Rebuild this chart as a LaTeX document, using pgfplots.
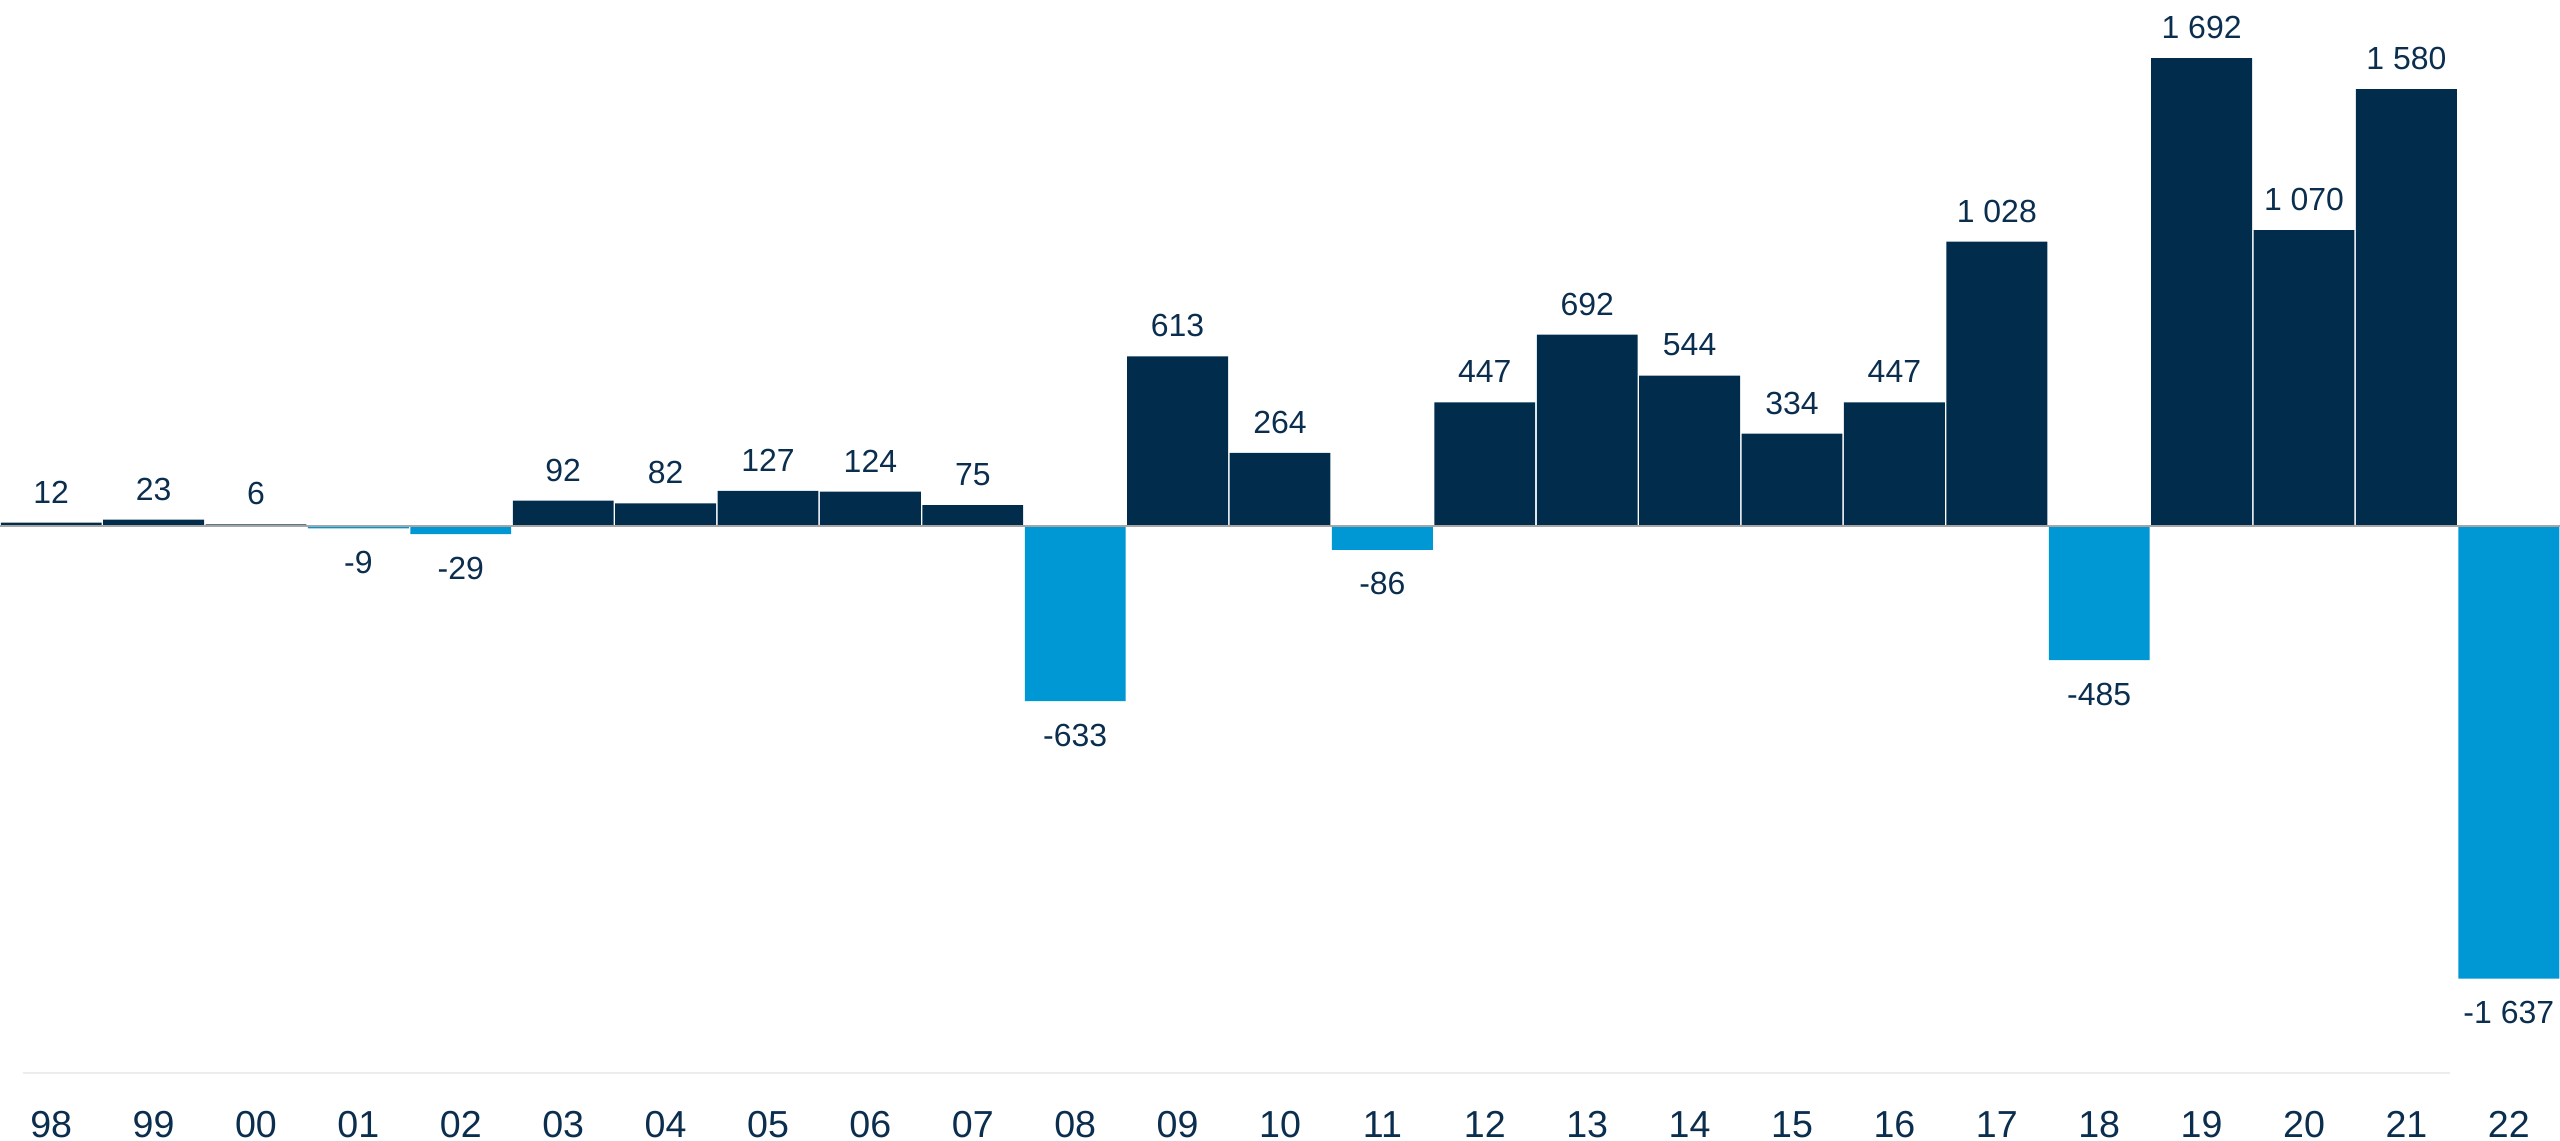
\documentclass[border=0pt]{standalone}
\usepackage{fontspec}
\setmainfont{Liberation Sans}
\usepackage{pgfplots}
\usepackage{pgfplotstable}
\pgfplotsset{compat=1.18}
\definecolor{navy}{HTML}{022C4B}
\definecolor{lblue}{HTML}{0097D5}
\definecolor{txt}{HTML}{0B2E4F}
\pgfplotstableread[col sep=comma]{
x,y,lab
0,12,12
1,23,23
2,6,6
5,92,92
6,82,82
7,127,127
8,124,124
9,75,75
11,613,613
12,264,264
14,447,447
15,692,692
16,544,544
17,334,334
18,447,447
19,1028,1 028
21,1692,1 692
22,1070,1 070
23,1580,1 580
}\pos
\pgfplotstableread[col sep=comma]{
x,y,lab
3,-9,-9
4,-29,-29
10,-633,-633
13,-86,-86
20,-485,-485
24,-1637,-1 637
}\neg
\begin{document}
\begin{tikzpicture}
\begin{axis}[at={(0,0)}, anchor=north west, scale only axis,
  width=25.6cm, height=10.73cm,
  xmin=-0.5, xmax=24.5, ymin=-1978, ymax=1902,
  clip=false,
  axis line style={draw=none}, tick style={draw=none},
  ytick=\empty,
  xtick={0,...,24},
  xticklabels={98,99,00,01,02,03,04,05,06,07,08,09,10,11,12,13,14,15,16,17,18,19,20,21,22},
  xticklabel style={anchor=base, yshift=-0.64cm, font=\fontsize{10.7}{12}\selectfont, text=txt},
]
\addplot[ybar, bar width=0.985, fill=navy, draw=none,
  nodes near coords, point meta=explicit symbolic,
  nodes near coords style={anchor=center, yshift=0.305cm, font=\fontsize{9.1}{11}\selectfont, text=txt}]
  table[x=x, y=y, meta=lab] {\pos};
\addplot[ybar, bar width=0.985, fill=lblue, draw=none,
  nodes near coords, point meta=explicit symbolic,
  nodes near coords style={anchor=center, yshift=-0.34cm, font=\fontsize{9.1}{11}\selectfont, text=txt}]
  table[x=x, y=y, meta=lab] {\neg};
\draw[gray!70, line width=0.4pt] (axis cs:-0.5,0) -- (axis cs:24.5,0);
\draw[gray!15, line width=0.6pt] (axis cs:-0.275,-1978) -- (axis cs:23.43,-1978);
\end{axis}
\pgfresetboundingbox
\path[use as bounding box] (0,0) rectangle (25.6,-11.41);
\end{tikzpicture}
\end{document}
